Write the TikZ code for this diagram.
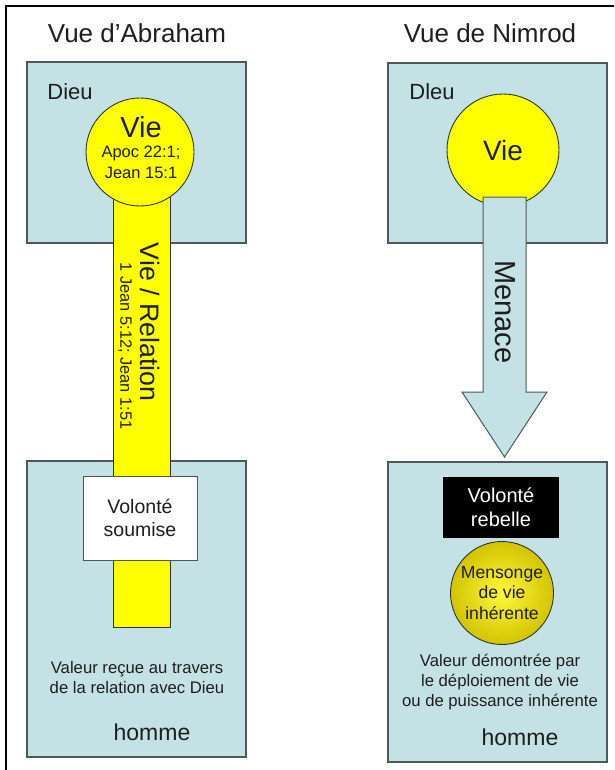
\documentclass[tikz,border=0pt]{standalone}
\usepackage{fontspec}
\setmainfont{Liberation Sans}
\usepackage{tikz}
\usetikzlibrary{positioning}
\definecolor{boxblue}{HTML}{C4E2E6}
\definecolor{boxline}{HTML}{4E5859}
\definecolor{vieyellow}{HTML}{FFFF00}
\definecolor{menin}{HTML}{FFF83C}
\definecolor{menout}{HTML}{D2C400}
\definecolor{txtdark}{HTML}{1E1E1E}

\begin{document}
\begin{tikzpicture}[x=1pt, y=-1pt,
    BX/.style={rectangle, draw=boxline, fill=boxblue, line width=1.1pt,
      inner sep=0pt, minimum width=219pt},
    VC/.style={circle, draw=boxline!60!black, fill=vieyellow, line width=0.9pt,
      inner sep=0pt, text=txtdark, align=center},
    MC/.style={circle, draw=boxline!60!black, inner color=menin, outer color=menout,
      line width=0.9pt, inner sep=0pt, minimum size=103pt, text=txtdark, align=center,
      font=\fontsize{17.6}{20.5}\selectfont},
    RB/.style={rectangle, draw=boxline!60!black, fill=vieyellow, line width=0.9pt,
      inner sep=0pt, minimum width=57pt, minimum height=432pt},
    WB/.style={rectangle, draw=boxline, fill=white, line width=1pt, inner sep=0pt,
      minimum width=114pt, minimum height=84pt, align=center, text=txtdark,
      font=\fontsize{19.5}{23}\selectfont},
    KB/.style={rectangle, fill=black, inner sep=0pt, minimum width=116pt,
      minimum height=61pt, align=center, text=white,
      font=\fontsize{20}{24}\selectfont},
    HD/.style={inner sep=0pt, text=txtdark, font=\fontsize{26}{30}\selectfont},
    LB/.style={inner sep=0pt, text=txtdark, font=\fontsize{22}{26}\selectfont},
    SM/.style={inner sep=0pt, text=txtdark, align=center,
      font=\fontsize{16.7}{20}\selectfont},
    MEN/.style={draw=boxline, fill=boxblue, line width=1pt, line join=miter}
  ]
    \useasboundingbox (0,0) rectangle (614,770);
    \draw[line width=1.6pt] (614,6) -- (6,6) -- (6,770);

    %% Titres
    \node[HD] (tA) at (137,33) {Vue d'Abraham};
    \node[HD] (tN) at (490,33) {Vue de Nimrod};

    %% Vue d'Abraham (gauche)
    \node[BX, minimum height=181pt] (dieuA) at (136.5,152.5) {};
    \node[BX, minimum height=296pt] (hommeA) at (136.5,609) {};
    \node[RB] (relA) at (141.5,411) {};
    \node[VC, minimum size=108pt] (vieA) at (140,152) {};
    \node[LB] (dA) at (70,92) {Dieu};
    \node[inner sep=0pt, text=txtdark, font=\fontsize{29}{32}\selectfont] (vieAt) at (141,127) {Vie};
    \node[SM, font=\fontsize{16.5}{21}\selectfont, below=8pt of vieAt] (vieAref) {Apoc 22:1;\\Jean 15:1};
    \node[inner sep=0pt, text=txtdark, rotate=-90, font=\fontsize{26.7}{30}\selectfont] (relAt) at (150,322) {Vie / Relation};
    \node[inner sep=0pt, text=txtdark, rotate=-90, font=\fontsize{16.4}{20}\selectfont] (relAref) at (125,346) {1 Jean 5:12; Jean 1:51};
    \node[WB] (volA) at (140,518) {Volont\'e\\soumise};
    \node[SM] (valA) at (137,678) {Valeur re\c{c}ue au travers\\de la relation avec Dieu};
    \node[inner sep=0pt, text=txtdark, font=\fontsize{23}{26}\selectfont] (hA) at (152,732) {homme};

    %% Vue de Nimrod (droite)
    \node[BX, minimum height=180pt] (dieuN) at (497.5,153) {};
    \node[BX, minimum height=300pt] (hommeN) at (497.5,612) {};
    \node[VC, minimum size=112pt, font=\fontsize{28}{32}\selectfont] (vieN) at (503,150) {Vie};
    \node[LB] (dN) at (432,92) {Dleu};
    \coordinate (mA) at (483,197);
    \coordinate (mB) at (526,392);
    \coordinate (mT) at (504.5,457);
    \draw[MEN] (mA) -- (mA -| mB) -- (mB) -- ++(21,0) -- (mT) -- ++(-42.5,-65) -- (mA |- mB) -- cycle;
    \node[inner sep=0pt, text=txtdark, rotate=-90, font=\fontsize{29}{32}\selectfont] (menN) at (505,312) {Menace};
    \node[KB] (volN) at (501,507.5) {Volont\'e\\rebelle};
    \node[MC] (menso) at (502,593) {Mensonge\\de vie\\inh\'erente};
    \node[SM] (valN) at (500,682) {Valeur d\'emontr\'ee par\\le d\'eploiement de vie\\ou de puissance inh\'erente};
    \node[inner sep=0pt, text=txtdark, font=\fontsize{23}{26}\selectfont] (hN) at (520,737) {homme};
  \end{tikzpicture}
\end{document}
